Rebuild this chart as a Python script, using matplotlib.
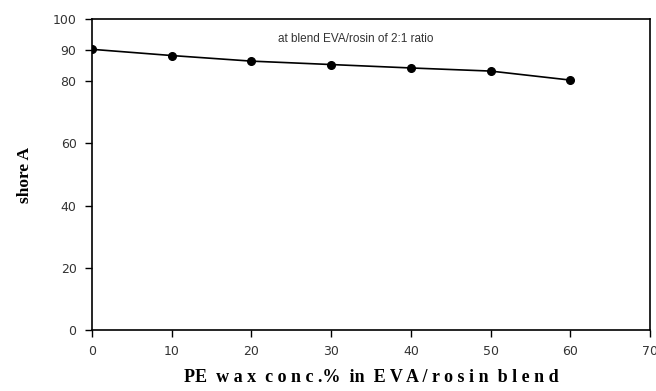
import matplotlib
matplotlib.use("Agg")
import matplotlib.pyplot as plt

# PE wax concentration (%) vs hardness
pe_wax = [0, 10, 20, 30, 40, 50, 60]
shore_a = [90.3, 88.3, 86.5, 85.4, 84.3, 83.3, 80.4]

y_ticks = [0, 20, 40, 60, 80, 90, 100]
x_ticks = [0, 10, 20, 30, 40, 50, 60, 70]

fig = plt.figure(figsize=(6.56, 3.91), dpi=100)
ax = fig.add_axes([0.140, 0.156, 0.851, 0.795])

ax.plot(pe_wax, shore_a, color="black", lw=1.2, marker="o", ms=5.5)

ax.set_xlim(0, 70)
ax.set_ylim(0, 100)
ax.set_xticks(x_ticks)
ax.set_yticks(y_ticks)
ax.tick_params(direction="out", length=5, width=1, labelsize=9,
               labelcolor="#333333", pad=6)
for s in ax.spines.values():
    s.set_linewidth(1.2)

ax.text(0.333, 0.955, "at blend EVA/rosin of 2:1 ratio", transform=ax.transAxes,
        fontsize=8.5, color="#333333", family="Liberation Sans", va="top")

ax.set_xlabel("PE  w a x  c o n c .%  in  E V A / r o s i n  b l e n d",
              family="Liberation Serif", fontweight="bold", fontsize=13,
              labelpad=8)
ax.set_ylabel("shore A", family="Liberation Serif", fontweight="bold",
              fontsize=12.5, labelpad=14)

fig.savefig("out.png", dpi=100)
